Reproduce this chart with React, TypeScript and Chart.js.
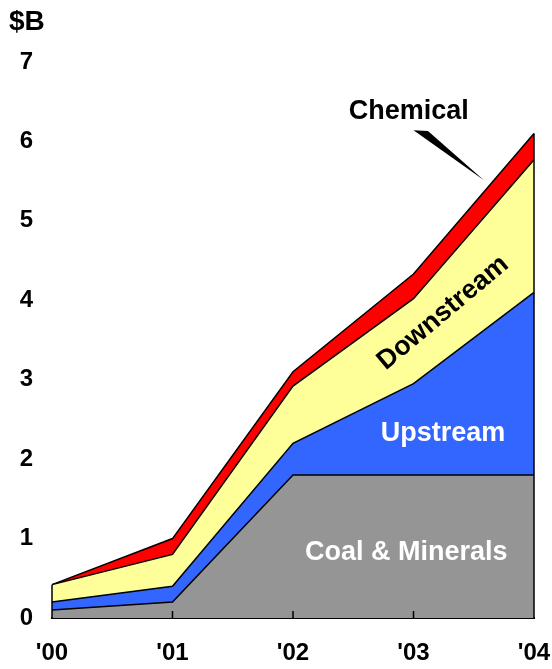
import React, { useEffect, useRef } from "react";
import { Chart, registerables } from "chart.js";

Chart.register(...registerables);

const categories = ["'00", "'01", "'02", "'03", "'04"];
const coal = [0.1, 0.2, 1.8, 1.8, 1.8];
const upstream = [0.1, 0.2, 0.4, 1.15, 2.3];
const downstream = [0.22, 0.4, 0.72, 1.07, 1.67];
const chemical = [0, 0.2, 0.18, 0.31, 0.33];
const yTicks = [0, 1, 2, 3, 4, 5, 6, 7];

const FONT = "'Liberation Sans', Arial, sans-serif";

const overlay = {
  id: "overlay",
  afterDatasetsDraw(chart: any) {
    const { ctx, scales } = chart;
    const x = scales.x;
    const y = scales.y;
    const base = y.getPixelForValue(0);
    const last = categories.length - 1;
    const total = (i: number) => coal[i] + upstream[i] + downstream[i] + chemical[i];
    ctx.save();
    ctx.strokeStyle = "#000";
    ctx.lineWidth = 1.5;
    [0, last].forEach((i) => {
      const px = x.getPixelForValue(i);
      ctx.beginPath();
      ctx.moveTo(px, base);
      ctx.lineTo(px, y.getPixelForValue(total(i)));
      ctx.stroke();
    });
    ctx.lineWidth = 1.5;
    for (let i = 1; i < last; i++) {
      const px = x.getPixelForValue(i);
      ctx.beginPath();
      ctx.moveTo(px, base);
      ctx.lineTo(px, base - 7);
      ctx.stroke();
    }
    // labels
    ctx.textAlign = "center";
    ctx.textBaseline = "middle";
    ctx.font = `bold 27px ${FONT}`;
    ctx.fillStyle = "#fff";
    ctx.fillText("Coal & Minerals", x.getPixelForValue(2.94), y.getPixelForValue(0.83));
    ctx.fillText("Upstream", x.getPixelForValue(3.245), y.getPixelForValue(2.32));
    ctx.fillStyle = "#000";
    ctx.save();
    ctx.translate(x.getPixelForValue(3.245), y.getPixelForValue(3.84));
    ctx.rotate((-40 * Math.PI) / 180);
    ctx.fillText("Downstream", 0, 0);
    ctx.restore();
    ctx.fillText("Chemical", x.getPixelForValue(2.96), y.getPixelForValue(6.38));
    // wedge
    ctx.beginPath();
    ctx.moveTo(x.getPixelForValue(3.0), y.getPixelForValue(6.14));
    ctx.lineTo(x.getPixelForValue(3.12), y.getPixelForValue(6.13));
    ctx.lineTo(x.getPixelForValue(3.585), y.getPixelForValue(5.51));
    ctx.closePath();
    ctx.fill();
    // unit
    ctx.textAlign = "left";
    ctx.font = `bold 28px ${FONT}`;
    ctx.fillText("$B", 9, y.getPixelForValue(7.5));
    ctx.restore();
  },
};

export default function App() {
  const ref = useRef<HTMLCanvasElement | null>(null);
  useEffect(() => {
    if (!ref.current) return;
    const mk = (label: string, data: number[], color: string, fill: any) => ({
      label,
      data,
      backgroundColor: color,
      borderColor: "#000",
      borderWidth: 1.5,
      pointRadius: 0,
      tension: 0,
      fill,
    });
    const chart = new Chart(ref.current, {
      type: "line",
      data: {
        labels: categories,
        datasets: [
          mk("Coal & Minerals", coal, "#959595", "origin"),
          mk("Upstream", upstream, "#3366ff", "-1"),
          mk("Downstream", downstream, "#ffff99", "-1"),
          mk("Chemical", chemical, "#ff0000", "-1"),
        ],
      },
      options: {
        animation: false,
        responsive: false,
        maintainAspectRatio: false,
        layout: { padding: { top: 62, right: 18, left: 0, bottom: 0 } },
        plugins: { legend: { display: false }, tooltip: { enabled: false } },
        scales: {
          x: {
            offset: false,
            grid: { display: false, drawTicks: false },
            border: { display: true, color: "#000", width: 2 },
            ticks: {
              color: "#000",
              font: { family: FONT, size: 24, weight: "bold" },
              padding: 21,
              maxRotation: 0,
              autoSkip: false,
            },
            afterFit(scale: any) {
              scale.height = 51;
              scale.paddingLeft = 0;
              scale.paddingRight = 0;
            },
          },
          y: {
            stacked: true,
            min: 0,
            max: 7,
            grid: { display: false, drawTicks: false },
            border: { display: false },
            afterBuildTicks(scale: any) {
              scale.ticks = yTicks.map((v) => ({ value: v }));
            },
            ticks: {
              stepSize: 1,
              color: "#000",
              font: { family: FONT, size: 24, weight: "bold" },
              padding: 19,
            },
            afterFit(scale: any) {
              scale.width = 52;
              scale.paddingTop = 0;
              scale.paddingBottom = 0;
            },
          },
        },
      },
      plugins: [overlay],
    });
    return () => chart.destroy();
  }, []);
  return (
    <div style={{ position: "fixed", left: 0, top: 0, width: 552, height: 669, background: "#fff" }}>
      <canvas ref={ref} width={552} height={669} style={{ width: 552, height: 669 }} />
    </div>
  );
}
